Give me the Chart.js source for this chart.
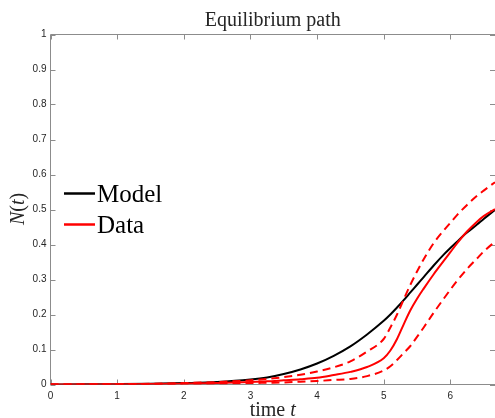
<!DOCTYPE html>
<html>
<head>
<meta charset="utf-8">
<script src="https://cdn.jsdelivr.net/npm/chart.js@4.4.1/dist/chart.umd.min.js"></script>
<style>
  html, body { margin: 0; padding: 0; background: #fff; }
  #wrap { width: 495px; height: 418px; }
</style>
</head>
<body>
<div id="wrap"><canvas id="c" width="495" height="418"></canvas></div>
<script>
// ── Data ──────────────────────────────────────────────────────────────────
const times     = [0, 0.5, 1, 1.5, 2, 2.5, 3, 3.25, 3.5, 3.75, 4, 4.25, 4.5, 4.75, 5, 5.1, 5.2, 5.3, 5.4, 5.5, 5.6, 5.75, 5.9, 6, 6.1, 6.25, 6.4, 6.5, 6.67]
const modelVals = [0, 0.0004, 0.001, 0.002, 0.004, 0.007, 0.014, 0.02, 0.03, 0.043, 0.06, 0.082, 0.109, 0.143, 0.182, 0.2, 0.22, 0.241, 0.263, 0.285, 0.307, 0.34, 0.371, 0.39, 0.408, 0.434, 0.457, 0.473, 0.499]
const dataVals  = [0, 0.0003, 0.0008, 0.0015, 0.0025, 0.004, 0.007, 0.009, 0.012, 0.015, 0.019, 0.027, 0.036, 0.05, 0.075, 0.097, 0.13, 0.172, 0.212, 0.245, 0.274, 0.315, 0.353, 0.378, 0.403, 0.437, 0.465, 0.481, 0.501]
const upperVals = [0, 0.0004, 0.001, 0.002, 0.004, 0.007, 0.012, 0.016, 0.021, 0.028, 0.037, 0.049, 0.066, 0.094, 0.13, 0.163, 0.2, 0.243, 0.285, 0.323, 0.358, 0.404, 0.44, 0.462, 0.484, 0.513, 0.539, 0.554, 0.578]
const lowerVals = [0, 0.0002, 0.0005, 0.001, 0.0018, 0.0028, 0.004, 0.005, 0.006, 0.008, 0.01, 0.013, 0.016, 0.024, 0.04, 0.052, 0.07, 0.09, 0.11, 0.136, 0.163, 0.205, 0.245, 0.271, 0.296, 0.33, 0.36, 0.38, 0.408]

const xMin = 0, xMax = 6.67
const yMin = 0, yMax = 1

const toPts = vals => vals.map((v, i) => ({ x: times[i], y: v }))

const SERIF = '"Liberation Serif", "Times New Roman", serif'
const SANS  = '"Liberation Sans", Arial, sans-serif'
const AXIS  = '#8c8c8c'

// ── Box + inward ticks (MATLAB style), drawn under the data ────────────────
const frame = {
  id: 'frame',
  beforeDatasetsDraw(chart) {
    const { ctx, chartArea: a, scales: { x, y } } = chart
    ctx.save()
    ctx.strokeStyle = AXIS
    ctx.lineWidth = 1
    ctx.beginPath()
    ctx.moveTo(a.left, a.bottom); ctx.lineTo(a.left, a.top); ctx.lineTo(a.right, a.top)
    ctx.moveTo(a.left, a.bottom); ctx.lineTo(a.right, a.bottom)
    x.ticks.forEach(t => {
      const px = Math.round(x.getPixelForValue(t.value)) + 0.5
      ctx.moveTo(px, a.bottom); ctx.lineTo(px, a.bottom - 5)
      ctx.moveTo(px, a.top); ctx.lineTo(px, a.top + 5)
    })
    y.ticks.forEach(t => {
      const py = Math.round(y.getPixelForValue(t.value)) + 0.5
      ctx.moveTo(a.left, py); ctx.lineTo(a.left + 5, py)
      ctx.moveTo(a.right, py); ctx.lineTo(a.right - 5, py)
    })
    ctx.stroke()
    ctx.restore()
  }
}

// draw text pieces with mixed fonts, left to right
function runsWidth(ctx, runs) {
  return runs.reduce((w, [txt, font]) => { ctx.font = font; return w + ctx.measureText(txt).width }, 0)
}
function drawRuns(ctx, runs, x, y) {
  runs.forEach(([txt, font]) => { ctx.font = font; ctx.fillText(txt, x, y); x += ctx.measureText(txt).width })
}

// ── Axis labels + legend inside the plot ──────────────────────────────────
const labels = {
  id: 'labels',
  afterDraw(chart) {
    const { ctx, chartArea: a } = chart
    const reg = '20px ' + SERIF, ital = 'italic 20px ' + SERIF
    ctx.save()
    ctx.fillStyle = '#262626'
    ctx.textBaseline = 'alphabetic'
    ctx.textAlign = 'left'

    const xl = [['time ', reg], ['t', ital]]
    drawRuns(ctx, xl, (a.left + a.right) / 2 - runsWidth(ctx, xl) / 2, 416)

    const yl = [['N', ital], ['(', reg], ['t', ital], [')', reg]]
    ctx.translate(24, 209)
    ctx.rotate(-Math.PI / 2)
    drawRuns(ctx, yl, -runsWidth(ctx, yl) / 2, 0)
    ctx.restore()

    // legend: Model, Data
    ctx.save()
    ctx.font = '25px ' + SERIF
    ctx.fillStyle = '#000'
    ctx.textBaseline = 'alphabetic'
    const items = chart.data.datasets.filter(d => d.inLegend)
    items.sort((p, q) => p.legendRank - q.legendRank)
    items.forEach((d, i) => {
      const ly = 193.5 + i * 31
      ctx.strokeStyle = d.borderColor
      ctx.lineWidth = 2.5
      ctx.setLineDash([])
      ctx.beginPath(); ctx.moveTo(64, ly); ctx.lineTo(95, ly); ctx.stroke()
      ctx.fillText(d.label, 97, ly + 8.5)
    })
    ctx.restore()
  }
}

const dash = [8, 5]

new Chart(document.getElementById('c'), {
  type: 'line',
  data: {
    datasets: [
      { label: 'upper', data: toPts(upperVals), borderColor: '#ff0000', borderDash: dash, borderWidth: 2 },
      { label: 'lower', data: toPts(lowerVals), borderColor: '#ff0000', borderDash: dash, borderWidth: 2 },
      { label: 'Data',  data: toPts(dataVals),  borderColor: '#ff0000', borderWidth: 2, inLegend: true, legendRank: 1 },
      { label: 'Model', data: toPts(modelVals), borderColor: '#000000', borderWidth: 2, inLegend: true, legendRank: 0 }
    ]
  },
  options: {
    responsive: false,
    devicePixelRatio: 1,
    animation: false,
    layout: { padding: 0 },
    elements: {
      point: { radius: 0 },
      line: { cubicInterpolationMode: 'monotone', fill: false }
    },
    plugins: {
      legend: { display: false },
      tooltip: { enabled: false },
      title: {
        display: true,
        text: 'Equilibrium path',
        fullSize: false,
        color: '#262626',
        font: { family: SERIF, size: 20, weight: 'normal', lineHeight: 1.2 },
        padding: { top: 8.5, bottom: 2 }
      }
    },
    scales: {
      x: {
        type: 'linear',
        min: xMin, max: xMax,
        grid: { display: false, drawTicks: false },
        border: { display: false },
        ticks: { stepSize: 1, includeBounds: false, padding: 6, color: '#262626', font: { family: SANS, size: 10 }, maxRotation: 0 },
        afterFit(s) { s.height = 33.5 }
      },
      y: {
        type: 'linear',
        min: yMin, max: yMax,
        grid: { display: false, drawTicks: false },
        border: { display: false },
        ticks: {
          stepSize: 0.1, padding: 4, color: '#262626', font: { family: SANS, size: 10 },
          callback: v => String(+v.toFixed(1))
        },
        afterFit(s) { s.width = 50.5 }
      }
    }
  },
  plugins: [frame, labels]
})
</script>
</body>
</html>
